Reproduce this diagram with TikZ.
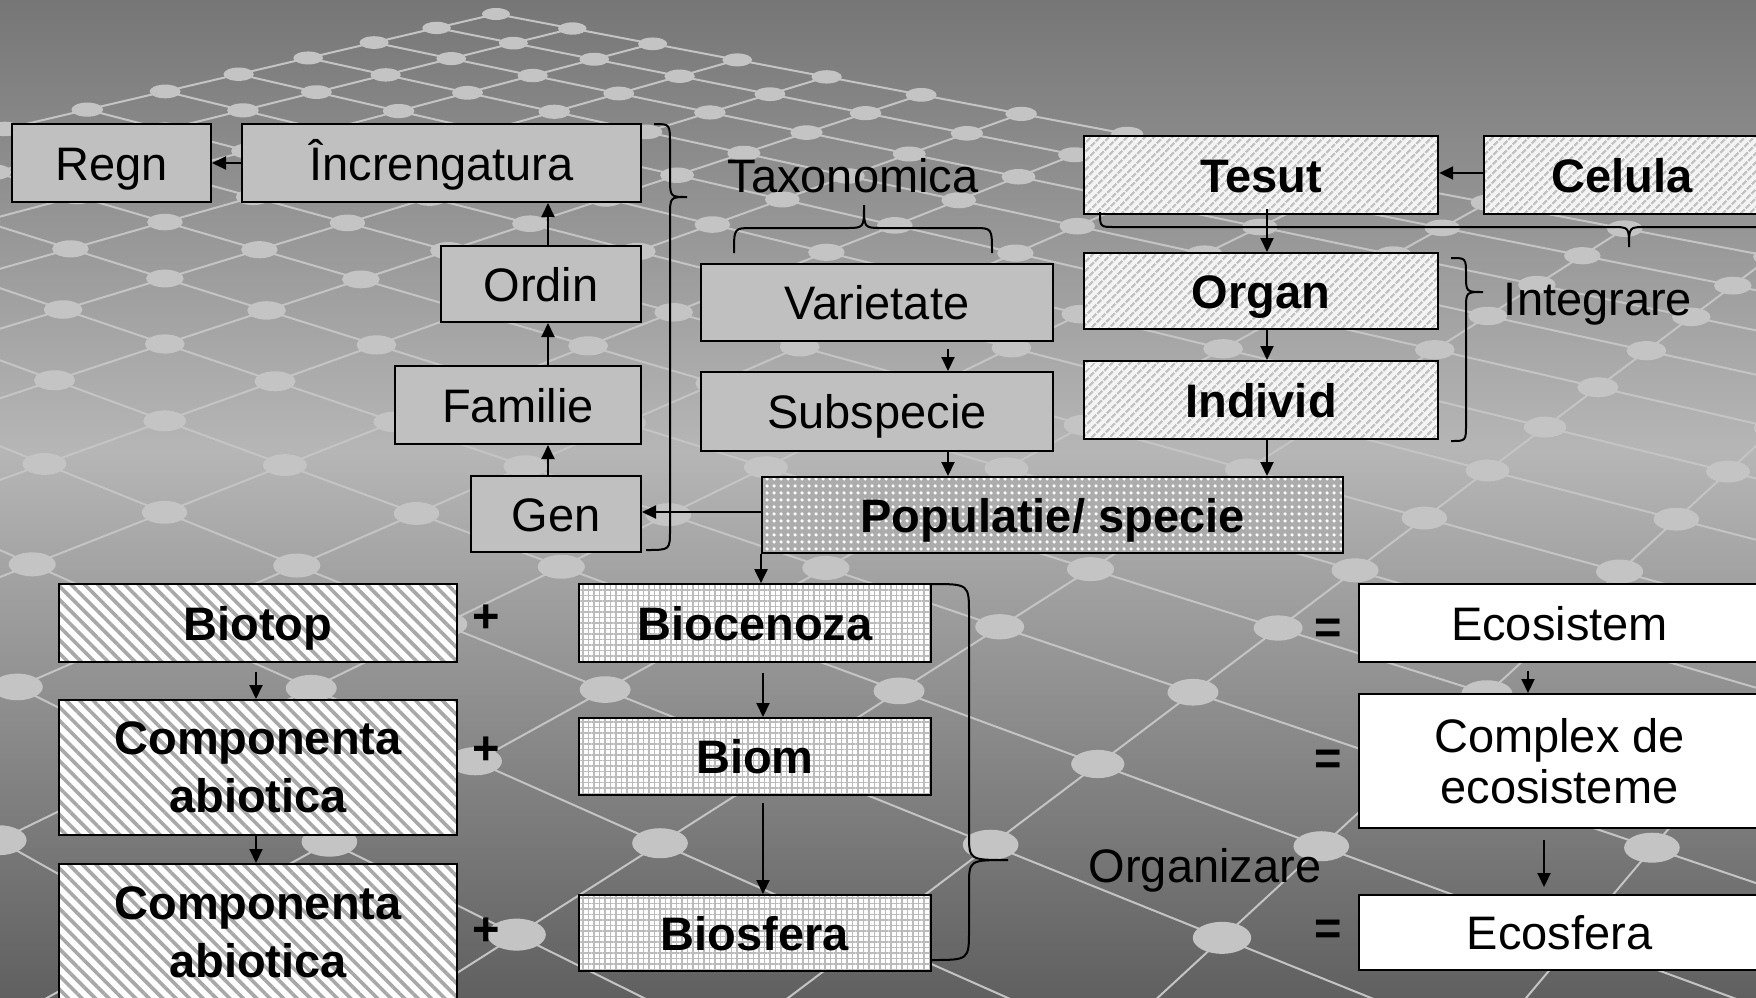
\documentclass[tikz,border=0pt]{standalone}
\usepackage{fontspec}
\setmainfont{Liberation Sans}
\usetikzlibrary{arrows.meta,patterns.meta}
\definecolor{bgtop}{HTML}{767676}
\definecolor{bgmid}{HTML}{B6B6B6}
\definecolor{bgbot}{HTML}{606060}
\definecolor{latc}{HTML}{C4C4C4}
\definecolor{taxg}{HTML}{C0C0C0}
\definecolor{tisbg}{HTML}{F4F4F4}
\definecolor{tisln}{HTML}{C2C2C2}
\definecolor{btln}{HTML}{A8A8A8}
\definecolor{popbg}{HTML}{ACACAC}
\definecolor{gridln}{HTML}{BBBBBB}
\begin{document}
\begin{tikzpicture}[x=1pt,y=-1pt,
  box/.style={draw=black,line width=2pt,inner sep=0pt,font=\fontsize{47}{58}\selectfont},
  onel/.style={text height=34pt,text depth=0pt},
  taxbox/.style={box,onel,fill=taxg},
  tisbox/.style={box,onel,font=\fontsize{47}{58}\selectfont\bfseries,preaction={fill=tisbg},
     pattern={Lines[angle=45,distance=6.5pt,line width=2.4pt]},pattern color=tisln},
  popbox/.style={box,onel,font=\fontsize{47}{58}\selectfont\bfseries,preaction={fill=popbg},
     pattern={Dots[radius=1.9pt,distance=6.5pt]},pattern color=white},
  btbox/.style={box,font=\fontsize{47}{58}\selectfont\bfseries,preaction={fill=white},
     pattern={Lines[angle=-45,distance=9.5pt,line width=3.6pt]},pattern color=btln},
  biobox/.style={box,onel,font=\fontsize{47}{58}\selectfont\bfseries,preaction={fill=white},
     pattern={Hatch[distance=5.5pt,line width=1.7pt]},pattern color=gridln},
  ecobox/.style={box,fill=white},
  lbl/.style={inner sep=0pt,font=\fontsize{47}{56}\selectfont},
  sign/.style={inner sep=0pt,font=\fontsize{47}{56}\selectfont\bfseries},
  arr/.style={line width=2pt,-{Triangle[length=14pt,width=13pt]}},
  brc/.style={line width=2pt},
  latline/.style={draw=latc,line width=2pt}
]
\useasboundingbox (0,0) rectangle (1756,997);
\begin{scope}
\clip (0,0) rectangle (1756,997);
\shade[top color=bgtop,bottom color=bgmid] (0,0) rectangle (1756,451);
\shade[top color=bgmid,bottom color=bgbot] (0,450) rectangle (1756,997);
\foreach \i in {0,...,29}{
  \pgfmathsetmacro\jm{30-\i}
  \pgfmathsetmacro\xa{(496+62*\i)/(1-0.025*\i)}
  \pgfmathsetmacro\ya{(14+13.8*\i)/(1-0.025*\i)}
  \pgfmathsetmacro\xb{(496+62*\i-70.3*\jm)/0.25}
  \pgfmathsetmacro\yb{(14+13.8*\i+13.2*\jm)/0.25}
  \draw[latline] (\xa,\ya) -- (\xb,\yb);
  \pgfmathsetmacro\xc{(496-70.3*\i)/(1-0.025*\i)}
  \pgfmathsetmacro\yc{(14+13.2*\i)/(1-0.025*\i)}
  \pgfmathsetmacro\xd{(496+62*\jm-70.3*\i)/0.25}
  \pgfmathsetmacro\yd{(14+13.8*\jm+13.2*\i)/0.25}
  \draw[latline] (\xc,\yc) -- (\xd,\yd);
}
\foreach \i in {0,...,27}{
 \foreach \j in {0,...,27}{
  \pgfmathtruncatemacro\s{\i+\j}
  \ifnum\s<28
   \pgfmathsetmacro\w{1-0.025*\s}
   \pgfmathsetmacro\X{(496+62*\i-70.3*\j)/\w}
   \pgfmathsetmacro\Y{(14+13.8*\i+13.2*\j)/\w}
   \pgfmathsetmacro\rx{14*pow(\w,-0.75)}
   \pgfmathsetmacro\ry{6*pow(\w,-1.0)}
   \fill[latc] (\X,\Y) ellipse [x radius=\rx, y radius=\ry];
  \fi
 }
}
\end{scope}

\begin{scope}
\clip (0,0) rectangle (1756,997);
% taxonomy
\node[taxbox,minimum width=199pt,minimum height=78pt] (regn) at (111.5,163) {Regn};
\node[taxbox,minimum width=399pt,minimum height=78pt] (incr) at (441.5,163) {Încrengatura};
\node[taxbox,minimum width=200pt,minimum height=76pt] (ordin) at (541,284) {Ordin};
\node[taxbox,minimum width=246pt,minimum height=78pt] (familie) at (518,405) {Familie};
\node[taxbox,minimum width=170pt,minimum height=76pt] (gen) at (556,514) {Gen};
\node[taxbox,minimum width=352pt,minimum height=77pt] (varietate) at (877,302.5) {Varietate};
\node[taxbox,minimum width=352pt,minimum height=79pt] (subspecie) at (877,411.5) {Subspecie};
% population
\node[popbox,minimum width=581pt,minimum height=76pt] (pop) at (1052.5,515) {Populatie/ specie};
% integration
\node[tisbox,minimum width=354pt,minimum height=78pt] (tesut) at (1261,175) {Tesut};
\node[tisbox,minimum width=276pt,minimum height=78pt] (celula) at (1622,175) {Celula};
\node[tisbox,minimum width=354pt,minimum height=76pt] (organ) at (1261,291) {Organ};
\node[tisbox,minimum width=354pt,minimum height=78pt] (individ) at (1261,400) {Individ};
% biotope
\node[btbox,onel,minimum width=398pt,minimum height=78pt] (biotop) at (258,623) {Biotop};
\node[btbox,align=center,minimum width=398pt,minimum height=135pt] (comp1) at (258,767.5) {Componenta\\abiotica};
\node[btbox,align=center,minimum width=398pt,minimum height=136pt] (comp2) at (258,932) {Componenta\\abiotica};
% biocenosis
\node[biobox,minimum width=352pt,minimum height=78pt] (biocenoza) at (755,623) {Biocenoza};
\node[biobox,minimum width=352pt,minimum height=77pt] (biom) at (755,756.5) {Biom};
\node[biobox,minimum width=352pt,minimum height=76pt] (biosfera) at (755,933) {Biosfera};
% ecosystems
\node[ecobox,onel,minimum width=401pt,minimum height=78pt] (ecosistem) at (1559.5,623) {Ecosistem};
\node[ecobox,align=center,font=\fontsize{47}{51}\selectfont,minimum width=401pt,minimum height=134pt] (complex) at (1559.5,761) {Complex de\\ecosisteme};
\node[ecobox,onel,minimum width=401pt,minimum height=75pt] (ecosfera) at (1559.5,932.5) {Ecosfera};

% labels
\node[lbl,anchor=base] (taxl) at (853,192) {Taxonomica};
\node[lbl,anchor=base] (intl) at (1598,315) {Integrare};
\node[lbl,anchor=base] (orgl) at (1205,882) {Organizare};
\node[sign] (p1) at (486,619) {+};
\node[sign] (p2) at (486,751) {+};
\node[sign] (p3) at (486,932) {+};
\node[sign] (e1) at (1328,631) {=};
\node[sign] (e2) at (1328,762) {=};
\node[sign] (e3) at (1328,932) {=};

% helper coordinates
\coordinate (xa) at (548,0);
\coordinate (xb) at (948,0);
\coordinate (xc) at (1267,0);
\coordinate (xd) at (763,0);
\coordinate (xe) at (256,0);
\coordinate (xf) at (1528,0);
\coordinate (xg) at (1544,0);
\coordinate (ya) at (0,512);
\coordinate (yb) at (0,173);

% connectors
\draw[arr] (incr.west) -- (regn.east);
\draw[arr] (ordin.north -| xa) -- (incr.south -| xa);
\draw[arr] (familie.north -| xa) -- (ordin.south -| xa);
\draw[arr] (gen.north -| xa) -- (familie.south -| xa);
\draw[arr] (pop.west |- ya) -- (gen.east |- ya);
\draw[arr] (celula.west |- yb) -- (tesut.east |- yb);
\draw[arr,shorten <=-6pt] (tesut.south -| xc) -- (organ.north -| xc);
\draw[arr] (organ.south -| xc) -- (individ.north -| xc);
\draw[arr] (individ.south -| xc) -- (pop.north -| xc);
\draw[arr,shorten <=7pt] (varietate.south -| xb) -- (subspecie.north -| xb);
\draw[arr] (subspecie.south -| xb) -- (pop.north -| xb);
\draw[arr] (pop.south west) -- (biocenoza.north -| pop.south west);
\draw[arr,shorten <=10pt] (biocenoza.south -| xd) -- (biom.north -| xd);
\draw[arr,shorten <=7pt] (biom.south -| xd) -- (biosfera.north -| xd);
\draw[arr,shorten <=8pt] (biotop.south -| xe) -- (comp1.north -| xe);
\draw[arr] (comp1.south -| xe) -- (comp2.north -| xe);
\draw[arr,shorten <=8pt] (ecosistem.south -| xf) -- (complex.north -| xf);
\draw[arr,shorten <=11pt,shorten >=7pt] (complex.south -| xg) -- (ecosfera.north -| xg);

% braces
\draw[brc] (654,124) .. controls (670,124) .. (670,144) -- (670,177)
  .. controls (670,197) .. (687,197) .. controls (670,197) .. (670,217)
  -- (670,530) .. controls (670,550) .. (646,550);
\draw[brc] (734,253) .. controls (734,228) .. (752,228) -- (846,228)
  .. controls (864,228) .. (864,205) .. controls (864,228) .. (882,228)
  -- (974,228) .. controls (992,228) .. (992,253);
\draw[brc] (1100,212) .. controls (1100,227) .. (1115,227) -- (1612,227)
  .. controls (1629,227) .. (1629,247) .. controls (1629,227) .. (1646,227)
  -- (1755,227) .. controls (1770,227) .. (1770,212);
\draw[brc] (1451,258) .. controls (1466,258) .. (1466,275)
  .. controls (1466,292) .. (1483,292) .. controls (1466,292) .. (1466,309)
  -- (1466,424) .. controls (1466,441) .. (1451,441);
\draw[brc] (931,584) .. controls (969,584) .. (969,614) -- (969,834)
  .. controls (969,860) .. (1008,860) .. controls (969,860) .. (969,886)
  -- (969,930) .. controls (969,960) .. (931,960);
\end{scope}
\end{tikzpicture}
\end{document}
